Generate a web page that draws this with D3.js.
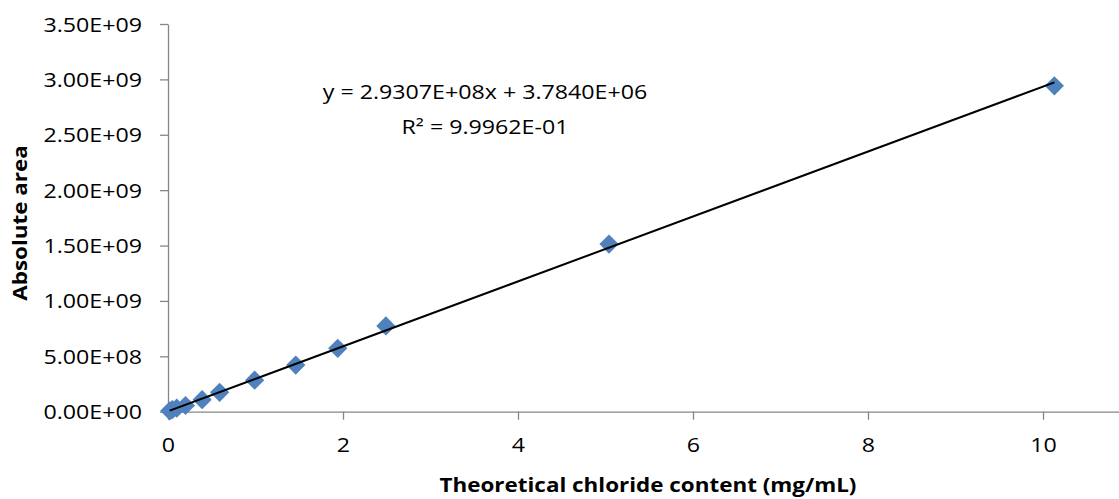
<!DOCTYPE html>
<html>
<head>
<meta charset="utf-8">
<script src="https://cdn.jsdelivr.net/npm/d3@7"></script>
<style>
  html, body { margin: 0; padding: 0; background: #fff; }
  svg { display: block; }
  text { font-family: "Open Sans", sans-serif; fill: #000; }
</style>
</head>
<body>
<svg id="chart" width="1119" height="499"></svg>
<script>
// ---- data ----
const concentrations = [0.02, 0.05, 0.1, 0.2, 0.39, 0.59, 0.99, 1.46, 1.94, 2.49, 5.04, 10.13];
const areas = [8.0e6, 1.8e7, 3.2e7, 5.6e7, 1.08e8, 1.75e8, 2.84e8, 4.21e8, 5.72e8, 7.74e8, 1.513e9, 2.942e9];
const yTicks = [0, 5e8, 1e9, 1.5e9, 2e9, 2.5e9, 3e9, 3.5e9];
const xTicks = [0, 2, 4, 6, 8, 10];
const trendSlope = 2.9307e8;
const trendIntercept = 3.7840e6;
const equationText = "y = 2.9307E+08x + 3.7840E+06";
const r2Text = "R\u00B2 = 9.9962E-01";
const xTitle = "Theoretical chloride content (mg/mL)";
const yTitle = "Absolute area";

// ---- layout ----
const SX = 1.19;           // horizontal text stretch (regular)
const SXB = 1.15;          // horizontal text stretch (bold)
const FS = 19.5;
const axisColor = "#868686";
const svg = d3.select("#chart");

const x = d3.scaleLinear().domain([0, 12]).range([168, 1218]);
const y = d3.scaleLinear().domain([0, 3.5e9]).range([411.7, 24]);

const fmtY = d => d.toExponential(2).replace(/e([+-])(\d)$/, "E$10$2").replace(/e([+-])(\d\d)$/, "E$1$2").toUpperCase();

// y axis
const gy = svg.append("g").attr("transform", `translate(${x(0)},0)`)
  .call(d3.axisLeft(y).tickValues(yTicks).tickSize(8).tickSizeOuter(0).tickFormat(fmtY));
gy.select(".domain").attr("stroke", axisColor).attr("stroke-width", 1.3);
gy.selectAll(".tick line").attr("stroke", axisColor).attr("stroke-width", 1.3);
gy.selectAll(".tick text")
  .attr("x", 0).attr("dy", null).attr("y", 0)
  .attr("font-size", FS).attr("font-family", "Open Sans, sans-serif")
  .attr("text-anchor", "end")
  .attr("transform", `translate(-26,7) scale(${SX},1)`);

// x axis
const gx = svg.append("g").attr("transform", `translate(0,${y(0)})`)
  .call(d3.axisBottom(x).tickValues(xTicks).tickSize(8).tickSizeOuter(0).tickFormat(d3.format("d")));
gx.select(".domain").attr("stroke", axisColor).attr("stroke-width", 1.3);
gx.selectAll(".tick line").attr("stroke", axisColor).attr("stroke-width", 1.3);
gx.selectAll(".tick text")
  .attr("y", 0).attr("dy", null)
  .attr("font-size", FS).attr("font-family", "Open Sans, sans-serif")
  .attr("transform", `translate(0,40.5) scale(${SX},1)`);

// markers
const sym = d3.symbol(d3.symbolSquare, 185);
svg.append("g").selectAll("path")
  .data(concentrations.map((c, i) => [c, areas[i]]))
  .join("path")
  .attr("d", sym)
  .attr("fill", "#4F81BD")
  .attr("transform", d => `translate(${x(d[0])},${y(d[1])}) rotate(45)`);

// trend line
const ext = d3.extent(concentrations);
svg.append("line")
  .attr("x1", x(ext[0])).attr("y1", y(trendSlope * ext[0] + trendIntercept))
  .attr("x2", x(ext[1])).attr("y2", y(trendSlope * ext[1] + trendIntercept))
  .attr("stroke", "#000").attr("stroke-width", 2);

// equation labels
svg.append("text").text(equationText)
  .attr("text-anchor", "middle").attr("font-size", FS)
  .attr("transform", `translate(485,98.5) scale(${SX},1)`);
svg.append("text").text(r2Text)
  .attr("text-anchor", "middle").attr("font-size", FS)
  .attr("transform", `translate(485,133.5) scale(${SX},1)`);

// axis titles
svg.append("text").text(xTitle)
  .attr("text-anchor", "middle").attr("font-size", FS).attr("font-weight", "bold")
  .attr("transform", `translate(648,492) scale(${SXB},1)`);
svg.append("text").text(yTitle)
  .attr("text-anchor", "middle").attr("font-size", FS).attr("font-weight", "bold")
  .attr("transform", `translate(27,223) rotate(-90) scale(${SXB},1)`);
</script>
</body>
</html>
